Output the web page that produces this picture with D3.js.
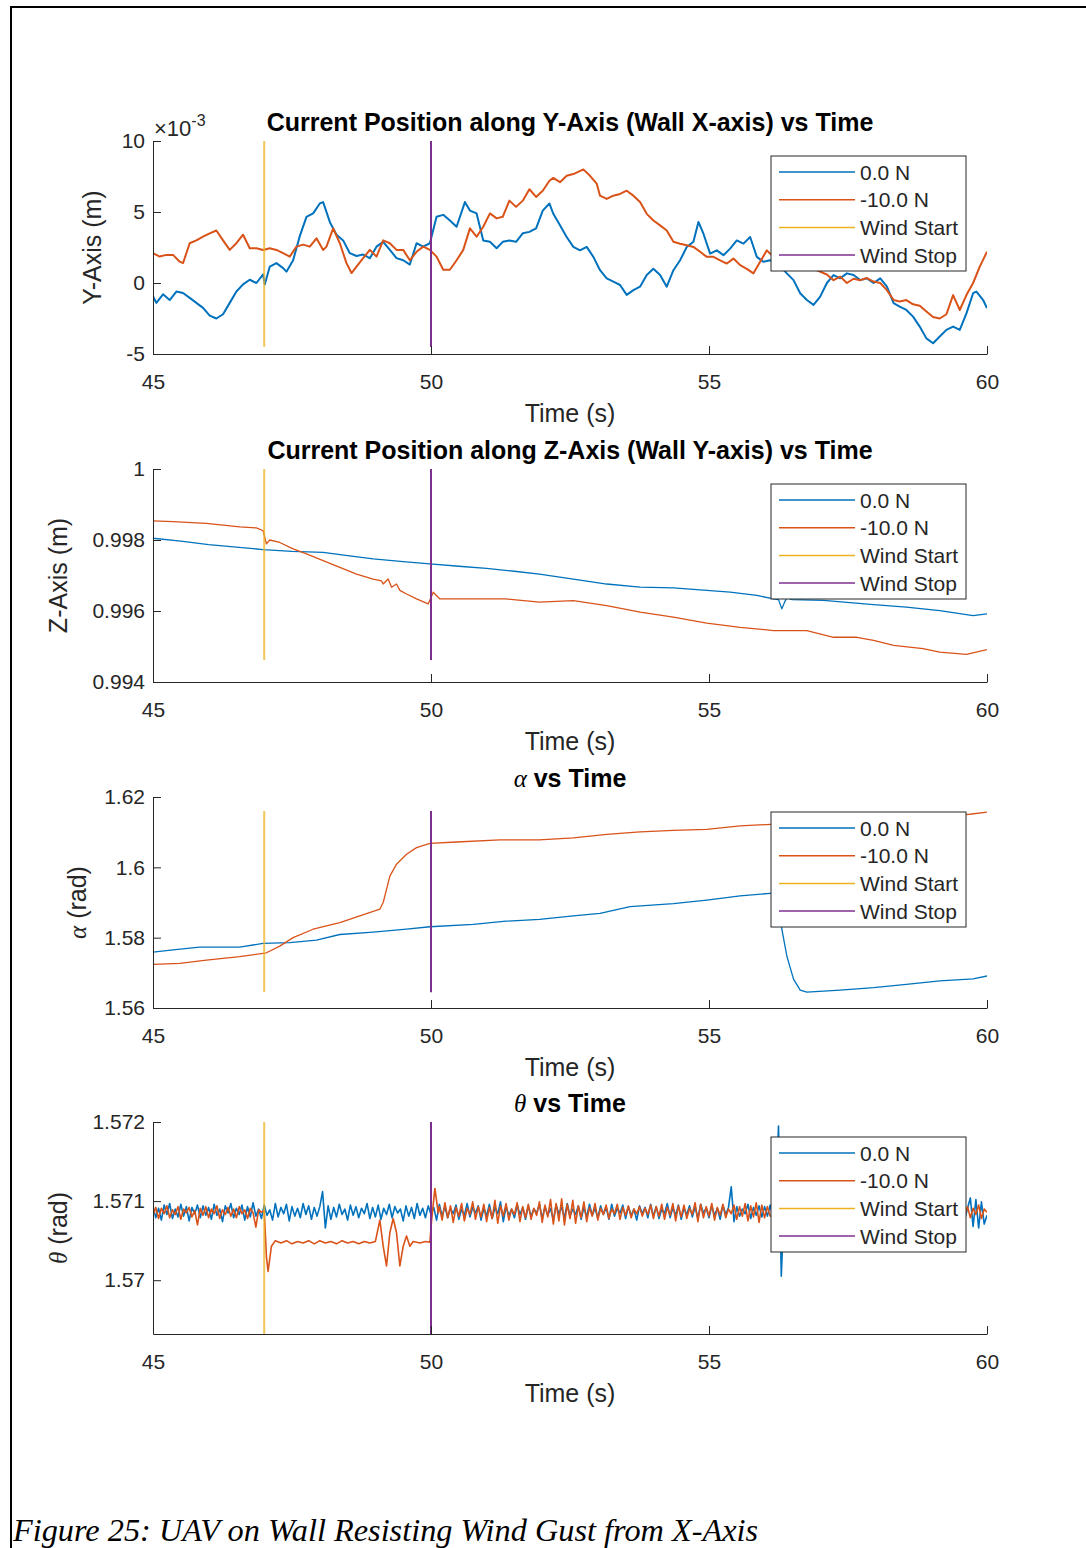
<!DOCTYPE html>
<html>
<head>
<meta charset="utf-8">
<title>UAV on Wall Resisting Wind Gust</title>
<style>
  html, body { margin: 0; padding: 0; background: #fff; }
  svg { display: block; }
</style>
</head>
<body>
<svg id="svg" width="1086" height="1548" font-family="'Liberation Sans', Arial, sans-serif"></svg>
<script src="https://cdn.jsdelivr.net/npm/d3@7"></script>
<script>
// ---- data ----
const timeTicks = [45, 50, 55, 60];
const legendLabels = ['0.0 N', '-10.0 N', 'Wind Start', 'Wind Stop'];
const windStart = 47;
const windStop = 50;

// position along Y axis, in units of 1e-3 m : [time s, value]
const posY0N = [[45.00,-0.93],[45.06,-1.4],[45.18,-0.8],[45.30,-1.2],[45.42,-0.6],[45.54,-0.7],[45.66,-1.05],[45.78,-1.4],[45.90,-1.75],[46.02,-2.3],[46.14,-2.5],[46.26,-2.2],[46.38,-1.4],[46.50,-0.6],[46.62,-0.1],[46.74,0.23],[46.86,0],[46.98,0.6],[47.01,-0.1],[47.10,1.15],[47.22,1.4],[47.34,1.05],[47.40,0.8],[47.52,1.6],[47.64,3.3],[47.76,4.66],[47.88,4.9],[48.00,5.6],[48.06,5.7],[48.18,4.3],[48.30,3.4],[48.42,3.0],[48.54,2.1],[48.66,1.9],[48.78,2.0],[48.90,1.75],[49.02,2.56],[49.14,2.9],[49.26,2.33],[49.38,1.75],[49.50,1.6],[49.62,1.3],[49.74,2.8],[49.86,2.56],[49.98,2.8],[50.10,4.66],[50.22,4.8],[50.34,4.4],[50.46,3.96],[50.61,5.7],[50.70,5.1],[50.82,4.9],[50.94,3.0],[51.06,2.9],[51.18,2.45],[51.29,2.9],[51.41,3.0],[51.53,2.9],[51.65,3.5],[51.77,3.6],[51.89,3.85],[52.01,5.1],[52.13,5.6],[52.20,4.87],[52.32,4.06],[52.44,3.24],[52.56,2.54],[52.68,2.3],[52.80,2.54],[52.92,1.84],[53.04,0.9],[53.16,0.33],[53.28,0.1],[53.40,-0.14],[53.52,-0.84],[53.64,-0.5],[53.76,-0.26],[53.88,0.56],[54.00,1.0],[54.12,0.56],[54.24,-0.26],[54.36,0.9],[54.48,1.6],[54.60,2.54],[54.72,2.9],[54.81,4.3],[54.90,3.47],[55.02,2.07],[55.14,2.3],[55.26,1.96],[55.38,2.42],[55.50,3.0],[55.62,2.77],[55.74,3.24],[55.86,1.84],[55.98,1.49],[56.10,1.6],[56.28,1.2],[56.40,0.68],[56.52,0.2],[56.64,-0.72],[56.76,-1.2],[56.88,-1.54],[57.00,-0.96],[57.12,0],[57.24,0.56],[57.36,0.33],[57.48,0.68],[57.60,0.56],[57.72,0.2],[57.84,0.33],[57.96,0],[58.08,0.33],[58.20,-0.26],[58.32,-1.42],[58.43,-1.66],[58.55,-1.9],[58.67,-2.37],[58.79,-3.07],[58.91,-3.9],[59.03,-4.24],[59.15,-3.77],[59.27,-3.3],[59.39,-3.07],[59.51,-3.3],[59.63,-2.14],[59.75,-0.72],[59.81,-0.6],[59.93,-1.2],[60.00,-1.77]];
const posY10N = [[45.00,2.1],[45.12,1.86],[45.24,1.98],[45.36,1.98],[45.48,1.5],[45.54,1.4],[45.66,2.8],[45.78,3.0],[45.90,3.26],[46.02,3.5],[46.14,3.7],[46.26,3.0],[46.38,2.33],[46.50,2.8],[46.62,3.4],[46.74,2.45],[46.86,2.45],[46.98,2.33],[47.10,2.45],[47.22,2.33],[47.34,2.1],[47.46,1.86],[47.58,2.56],[47.70,2.7],[47.82,2.56],[47.94,3.15],[48.06,2.33],[48.12,2.56],[48.24,3.85],[48.36,2.8],[48.48,1.4],[48.57,0.7],[48.66,1.15],[48.78,1.75],[48.90,2.33],[49.02,1.86],[49.14,3.0],[49.26,2.8],[49.38,2.33],[49.50,2.33],[49.62,1.6],[49.74,2.2],[49.86,2.56],[49.98,2.33],[50.10,1.86],[50.22,0.93],[50.34,0.93],[50.46,1.6],[50.58,2.33],[50.70,3.85],[50.82,3.26],[50.94,3.96],[51.06,4.9],[51.18,4.55],[51.29,4.66],[51.41,5.8],[51.53,5.36],[51.65,5.8],[51.77,6.6],[51.89,6.06],[52.01,6.5],[52.13,7.2],[52.20,7.4],[52.32,7.1],[52.44,7.55],[52.56,7.67],[52.74,8.0],[52.86,7.55],[52.98,7.0],[53.04,6.15],[53.16,5.92],[53.28,6.15],[53.40,6.27],[53.52,6.5],[53.64,6.15],[53.76,5.7],[53.88,4.87],[54.00,4.4],[54.12,4.06],[54.24,3.7],[54.36,2.9],[54.48,2.77],[54.60,2.66],[54.72,2.54],[54.84,2.2],[54.96,1.84],[55.08,1.84],[55.20,1.6],[55.32,1.37],[55.44,1.72],[55.56,1.26],[55.68,1.0],[55.80,0.68],[55.92,1.49],[56.04,2.3],[56.16,1.84],[56.40,1.5],[56.64,1.2],[56.88,1.0],[57.12,0.6],[57.24,0.2],[57.36,0.45],[57.48,0],[57.60,0.3],[57.72,0.2],[57.84,0.35],[57.96,0.1],[58.08,0],[58.20,-0.5],[58.32,-1.2],[58.43,-1.3],[58.55,-1.2],[58.67,-1.5],[58.79,-1.6],[58.91,-2.0],[59.03,-2.4],[59.15,-2.5],[59.27,-2.2],[59.39,-0.85],[59.51,-1.9],[59.63,-0.85],[59.75,0],[59.87,1.15],[60.00,2.2]];

// position along Z axis (m)
const posZ0N = [[45.00,0.99805],[45.5,0.99797],[46.0,0.99787],[46.5,0.9978],[46.98,0.99773],[47.5,0.99768],[48.06,0.99765],[48.5,0.99756],[48.96,0.99747],[49.5,0.99739],[49.98,0.99733],[50.5,0.99726],[51.0,0.9972],[51.5,0.99712],[51.95,0.99704],[52.56,0.9969],[53.16,0.99676],[53.76,0.99667],[54.36,0.99665],[54.96,0.99658],[55.38,0.99653],[55.86,0.99644],[56.16,0.99634],[56.25,0.99632],[56.31,0.99606],[56.36,0.99625],[56.4,0.99637],[56.5,0.99632],[57.06,0.9963],[57.96,0.99618],[58.55,0.99611],[59.15,0.99601],[59.75,0.99587],[60.00,0.99592]];
const posZ10N = [[45.00,0.99854],[45.36,0.99852],[45.96,0.99847],[46.56,0.99837],[46.86,0.99834],[46.98,0.99826],[47.04,0.99789],[47.10,0.998],[47.28,0.99793],[47.52,0.99775],[47.76,0.99761],[48.06,0.99742],[48.36,0.99723],[48.66,0.99704],[48.96,0.9969],[49.11,0.99685],[49.14,0.99676],[49.23,0.9969],[49.29,0.99667],[49.38,0.99676],[49.44,0.99658],[49.56,0.99648],[49.74,0.99634],[49.95,0.9962],[50.04,0.99653],[50.16,0.99634],[50.76,0.99634],[51.35,0.99634],[51.95,0.99625],[52.56,0.99629],[53.16,0.99615],[53.76,0.99597],[54.36,0.99583],[54.96,0.99566],[55.56,0.99554],[56.16,0.99545],[56.76,0.99545],[57.24,0.99526],[57.66,0.99526],[57.96,0.99517],[58.32,0.99503],[58.85,0.99494],[59.15,0.99484],[59.63,0.99478],[60.00,0.99491]];

// alpha (rad)
const alpha0N = [[45.00,1.5759],[45.36,1.5765],[45.84,1.5773],[46.56,1.5773],[46.98,1.5784],[47.46,1.5786],[47.94,1.5793],[48.36,1.5809],[48.96,1.5816],[49.56,1.5824],[49.98,1.5831],[50.76,1.5838],[51.35,1.5847],[51.95,1.5852],[52.56,1.5862],[53.04,1.5869],[53.58,1.5888],[54.36,1.5897],[54.96,1.5907],[55.56,1.5919],[56.10,1.5926],[56.23,1.5928],[56.31,1.5824],[56.40,1.5748],[56.52,1.5682],[56.64,1.5651],[56.76,1.5645],[57.36,1.5651],[57.96,1.5658],[58.55,1.5667],[59.15,1.5677],[59.75,1.5683],[60.00,1.5691]];
const alpha10N = [[45.00,1.5724],[45.48,1.5727],[45.96,1.5736],[46.56,1.5746],[47.04,1.5757],[47.28,1.5776],[47.52,1.58],[47.88,1.5824],[48.36,1.5843],[48.72,1.5862],[49.08,1.5881],[49.14,1.59],[49.26,1.5975],[49.38,1.6009],[49.56,1.6037],[49.74,1.6056],[49.98,1.6068],[50.46,1.6072],[51.24,1.6078],[51.95,1.6078],[52.56,1.6084],[53.16,1.6094],[53.76,1.6101],[54.36,1.6105],[54.96,1.6108],[55.56,1.6118],[56.10,1.6122],[57.96,1.6138],[59.69,1.6151],[60.00,1.6157]];

// theta (rad), 0 N run sampled every 0.05 s from 45 s (one row per second)
const thetaStep = 0.05;
const theta0N = [
1.57094,1.57079,1.57091,1.57076,1.57095,1.57083,1.57097,1.57078,1.5709,1.5708,1.57096,1.57081,1.57093,1.57075,1.57092,1.57084,1.57095,1.57079,1.57094,1.57082,
1.57092,1.57077,1.57096,1.57082,1.5709,1.57074,1.57094,1.57085,1.57097,1.57079,1.57091,1.57083,1.57095,1.57076,1.57093,1.5708,1.57098,1.57081,1.5709,1.57078,
1.57095,1.57082,1.57089,1.57076,1.57097,1.5708,1.57092,1.57084,1.57096,1.57075,1.57093,1.57081,1.57091,1.57079,1.57097,1.57083,1.57094,1.57077,1.57092,1.57081,
1.57093,1.57112,1.57066,1.57094,1.57077,1.57092,1.5708,1.57096,1.57083,1.5709,1.57076,1.57095,1.57082,1.57093,1.57079,1.57091,1.57084,1.57097,1.57078,1.57092,
1.5708,1.57095,1.57077,1.57091,1.57083,1.57096,1.57079,1.57093,1.57085,1.5709,1.57075,1.57094,1.57081,1.57092,1.57078,1.57097,1.57082,1.57091,1.57079,1.57094,
1.57083,1.57092,1.57076,1.57096,1.57081,1.57093,1.57079,1.57091,1.57084,1.57095,1.57077,1.5709,1.57082,1.57097,1.5708,1.57092,1.57085,1.57094,1.57076,1.57091,
1.57081,1.57096,1.57078,1.57092,1.57084,1.57099,1.57074,1.57093,1.57082,1.5709,1.57079,1.57095,1.57083,1.57092,1.57077,1.57094,1.57081,1.5709,1.57085,1.57096,
1.57078,1.57093,1.57082,1.57091,1.57076,1.57095,1.57084,1.57092,1.57079,1.57097,1.57081,1.5709,1.57083,1.57094,1.57077,1.57092,1.5708,1.57096,1.57082,1.57091,
1.57079,1.57094,1.57083,1.57092,1.57077,1.57096,1.57081,1.57091,1.57085,1.57095,1.57078,1.57093,1.57082,1.5709,1.57076,1.57094,1.57084,1.57092,1.57079,1.57096,
1.57081,1.57093,1.57078,1.5709,1.57084,1.57097,1.57079,1.57092,1.57082,1.57095,1.57077,1.57091,1.57083,1.57094,1.5708,1.57093,1.57078,1.57096,1.57085,1.57091,
1.57079,1.57094,1.57082,1.57091,1.57077,1.57095,1.57083,1.57092,1.57118,1.57074,1.57093,1.57081,1.5709,1.57084,1.57096,1.57078,1.57092,1.57082,1.57094,1.5708,
1.57093,1.57081,1.57095,1.57079,1.57092,1.57195,1.57005,1.57094,1.57082,1.57091,1.57079,1.57096,1.57083,1.57092,1.57077,1.57094,1.57081,1.5709,1.57084,1.57095,
1.57078,1.57092,1.57083,1.57096,1.5708,1.57091,1.57077,1.57094,1.57084,1.57092,1.57079,1.57095,1.57082,1.5709,1.57078,1.57093,1.57085,1.57091,1.5708,1.57096,
1.57082,1.57091,1.57077,1.57095,1.57083,1.57092,1.57079,1.57094,1.57081,1.5709,1.57084,1.57096,1.57078,1.57093,1.57082,1.57091,1.57077,1.57095,1.57084,1.57092,
1.5708,1.57094,1.57083,1.57091,1.57078,1.57096,1.57082,1.57093,1.57079,1.57092,1.57084,1.57095,1.57077,1.57091,1.57104,1.57068,1.57102,1.57066,1.57099,1.57071,
1.57082];
// theta (rad), -10 N run : [time s, value]
const theta10N = [[45.00,1.57082],[45.05,1.57092],[45.10,1.57078],[45.15,1.57091],[45.20,1.57084],[45.25,1.57094],[45.30,1.57079],[45.35,1.57089],[45.40,1.57083],[45.45,1.57093],[45.50,1.57077],[45.55,1.5709],[45.60,1.57085],[45.65,1.57092],[45.70,1.5708],[45.75,1.57088],[45.80,1.5707],[45.85,1.57091],[45.90,1.57082],[45.95,1.57093],
[46.00,1.57079],[46.05,1.5709],[46.10,1.57084],[46.15,1.57094],[46.20,1.57078],[46.25,1.57089],[46.30,1.57083],[46.35,1.57092],[46.40,1.57081],[46.45,1.5709],[46.50,1.57079],[46.55,1.57093],[46.60,1.57084],[46.65,1.57089],[46.70,1.57078],[46.75,1.57091],[46.80,1.57085],[46.85,1.57067],[46.90,1.57089],[46.95,1.57086],
[47.00,1.57088],[47.04,1.5703],[47.07,1.57011],[47.13,1.57043],[47.2,1.5705],[47.3,1.57047],[47.4,1.5705],[47.5,1.57046],[47.6,1.57049],[47.7,1.57047],[47.8,1.5705],[47.9,1.57046],[48.0,1.5705],[48.1,1.57047],[48.2,1.57049],[48.3,1.57046],[48.4,1.5705],[48.5,1.57047],[48.6,1.57049],[48.7,1.57046],[48.8,1.57049],[48.9,1.57047],[49.0,1.57049],
[49.08,1.57076],[49.14,1.57043],[49.2,1.57018],[49.26,1.5706],[49.32,1.57078],[49.38,1.5706],[49.44,1.57018],[49.5,1.57043],[49.56,1.57056],[49.62,1.57043],[49.68,1.57049],[49.8,1.57047],[49.9,1.57049],[49.98,1.57048],[50.01,1.57075],[50.07,1.57116],[50.13,1.57085],
[50.15,1.57093],[50.20,1.57076],[50.25,1.57098],[50.30,1.57079],[50.35,1.57094],[50.40,1.57073],[50.45,1.57092],[50.50,1.57081],[50.55,1.57097],[50.60,1.57075],[50.65,1.57091],[50.70,1.57083],[50.75,1.57099],[50.80,1.57077],[50.85,1.57093],[50.90,1.5708],[50.95,1.57096],[51.00,1.57074],
[51.05,1.57092],[51.10,1.57078],[51.15,1.57101],[51.20,1.57072],[51.25,1.57094],[51.30,1.57081],[51.35,1.57097],[51.40,1.57076],[51.45,1.5709],[51.50,1.57083],[51.55,1.57098],[51.60,1.57074],[51.65,1.57093],[51.70,1.57079],[51.75,1.57096],[51.80,1.57077],[51.85,1.57091],[51.90,1.57082],[51.95,1.57099],[52.00,1.57073],
[52.05,1.57095],[52.10,1.5708],[52.15,1.57102],[52.20,1.57071],[52.25,1.57097],[52.30,1.57075],[52.35,1.57103],[52.40,1.5707],[52.45,1.57096],[52.50,1.57078],[52.55,1.57101],[52.60,1.57072],[52.65,1.57094],[52.70,1.57079],[52.75,1.57099],[52.80,1.57074],[52.85,1.57092],[52.90,1.57081],[52.95,1.57097],[53.00,1.57076],
[53.05,1.57091],[53.10,1.57083],[53.15,1.57095],[53.20,1.57078],[53.25,1.5709],[53.30,1.57084],[53.35,1.57096],[53.40,1.57077],[53.45,1.57092],[53.50,1.57082],[53.55,1.57094],[53.60,1.57079],[53.65,1.5709],[53.70,1.57084],[53.75,1.57093],[53.80,1.57081],[53.85,1.57091],[53.90,1.57083],[53.95,1.57095],[54.00,1.57078],
[54.05,1.57093],[54.10,1.57081],[54.15,1.57096],[54.20,1.57077],[54.25,1.57092],[54.30,1.57082],[54.35,1.57097],[54.40,1.57075],[54.45,1.57094],[54.50,1.5708],[54.55,1.57095],[54.60,1.57078],[54.65,1.57091],[54.70,1.57083],[54.75,1.57098],[54.80,1.57074],[54.85,1.57096],[54.90,1.57079],[54.95,1.57093],[55.00,1.57081],
[55.05,1.57097],[55.10,1.57076],[55.15,1.57092],[55.20,1.57082],[55.25,1.57096],[55.30,1.57079],[55.35,1.5709],[55.40,1.57084],[55.45,1.57095],[55.50,1.57077],[55.55,1.57093],[55.60,1.57081],[55.65,1.57097],[55.70,1.57075],[55.75,1.57094],[55.80,1.5708],[55.85,1.57098],[55.90,1.57073],[55.95,1.57095],[56.00,1.57079],
[56.05,1.57093],[56.10,1.57081],[56.5,1.5709],[57.0,1.57083],[57.5,1.57091],[58.0,1.57084],[58.5,1.5709],[59.0,1.57083],[59.5,1.57091],
[59.60,1.57082],[59.65,1.57093],[59.70,1.57079],[59.75,1.57091],[59.80,1.57083],[59.85,1.57095],[59.90,1.57078],[59.95,1.5709],[60.00,1.57086]];

const yTicksPosY = [-5, 0, 5, 10];
const yTicksPosZ = [0.994, 0.996, 0.998, 1];
const yTicksAlpha = [1.56, 1.58, 1.6, 1.62];
const yTicksTheta = [1.57, 1.571, 1.572];

// ---- layout ----
const colors = ['#0072BD', '#D95319', '#EDB120', '#7E2F8E'];
const axisColor = '#262626';
const serif = "'Liberation Serif', 'Times New Roman', serif";
const plotLeft = 153, plotRight = 987;
const svg = d3.select('#svg');

const panels = [
  { top: 141, bottom: 354, domain: [-5, 10], ticks: yTicksPosY,
    series: [posY0N, posY10N], width: 2, wind: [-4.5, 10],
    title: [['Current Position along Y-Axis (Wall X-axis) vs Time', 'sans']],
    ylabel: [['Y-Axis (m)', 'sans']], ylabelX: 101, exponent: true },
  { top: 469, bottom: 682, domain: [0.994, 1], ticks: yTicksPosZ,
    series: [posZ0N, posZ10N], width: 1.3, wind: [0.99462, 1],
    title: [['Current Position along Z-Axis (Wall Y-axis) vs Time', 'sans']],
    ylabel: [['Z-Axis (m)', 'sans']], ylabelX: 67 },
  { top: 797, bottom: 1008, domain: [1.56, 1.62], ticks: yTicksAlpha,
    series: [alpha0N, alpha10N], width: 1.3, wind: [1.5645, 1.616],
    title: [['\u03b1', 'greek'], [' vs Time', 'sans']],
    ylabel: [['\u03b1', 'greek'], [' (rad)', 'sans']], ylabelX: 86 },
  { top: 1122, bottom: 1334, domain: [1.56932, 1.572], ticks: yTicksTheta,
    series: [theta0N.map((v, i) => [45 + i * thetaStep, v]), theta10N], width: 1.6, wind: [1.56932, 1.572],
    title: [['\u03b8', 'greek'], [' vs Time', 'sans']],
    ylabel: [['\u03b8', 'greek'], [' (rad)', 'sans']], ylabelX: 67 }
];

const x = d3.scaleLinear().domain([45, 60]).range([plotLeft, plotRight]);

const addRuns = (sel, runs, bold) => {
  runs.forEach(([str, kind]) => {
    const t = sel.append('tspan').text(str);
    if (kind === 'greek') {
      t.attr('font-family', serif).attr('font-style', 'italic').attr('font-weight', 'normal');
    } else if (bold) {
      t.attr('font-weight', 'bold');
    }
  });
};

panels.forEach((p, pi) => {
  const y = d3.scaleLinear().domain(p.domain).range([p.bottom, p.top]);
  const g = svg.append('g');

  g.append('clipPath').attr('id', 'clip' + pi)
    .append('rect')
    .attr('x', plotLeft).attr('y', p.top)
    .attr('width', plotRight - plotLeft).attr('height', p.bottom - p.top);

  const plot = g.append('g').attr('clip-path', `url(#clip${pi})`);
  const linegen = d3.line().x((d) => x(d[0])).y((d) => y(d[1]));

  p.series.forEach((s, si) => {
    plot.append('path')
      .attr('d', linegen(s))
      .attr('fill', 'none')
      .attr('stroke', colors[si])
      .attr('stroke-width', p.width)
      .attr('stroke-linejoin', 'round');
  });

  [windStart, windStop].forEach((t, wi) => {
    plot.append('path')
      .attr('d', linegen([[t, p.wind[0]], [t, p.wind[1]]]))
      .attr('stroke', colors[2 + wi])
      .attr('stroke-opacity', wi === 0 ? 0.75 : 1)
      .attr('stroke-width', 2);
  });

  // axes
  const xAxis = g.append('g')
    .attr('transform', `translate(0,${p.bottom})`)
    .call(d3.axisBottom(x).tickValues(timeTicks).tickSize(-8).tickSizeOuter(0).tickPadding(20));
  const yAxis = g.append('g')
    .attr('transform', `translate(${plotLeft},0)`)
    .call(d3.axisLeft(y).tickValues(p.ticks).tickFormat((d) => String(+d.toFixed(4)))
      .tickSize(-8).tickSizeOuter(0).tickPadding(8));
  [xAxis, yAxis].forEach((a) => {
    a.attr('font-family', null);
    a.selectAll('path, line').attr('stroke', axisColor);
    a.selectAll('text').attr('fill', axisColor).attr('font-size', 21);
  });

  // labels
  g.append('text')
    .attr('x', (plotLeft + plotRight) / 2).attr('y', p.bottom + 68)
    .attr('text-anchor', 'middle').attr('font-size', 25).attr('fill', axisColor)
    .text('Time (s)');

  const title = g.append('text')
    .attr('x', (plotLeft + plotRight) / 2).attr('y', p.top - 10)
    .attr('text-anchor', 'middle').attr('font-size', 25).attr('fill', '#000');
  addRuns(title, p.title, true);

  const yl = g.append('text')
    .attr('transform', `translate(${p.ylabelX},${(p.top + p.bottom) / 2}) rotate(-90)`)
    .attr('text-anchor', 'middle').attr('font-size', 25).attr('fill', axisColor);
  addRuns(yl, p.ylabel, false);

  if (p.exponent) {
    const ex = g.append('text').attr('x', plotLeft + 1).attr('y', p.top - 5)
      .attr('font-size', 22).attr('fill', axisColor);
    ex.append('tspan').text('\u00d710');
    ex.append('tspan').attr('dy', -10).attr('font-size', 16).text('-3');
  }

  // legend
  const lx = 771, ly = p.top + 15, lw = 195, lh = 115;
  const leg = g.append('g');
  leg.append('rect').attr('x', lx).attr('y', ly).attr('width', lw).attr('height', lh)
    .attr('fill', '#fff').attr('stroke', axisColor).attr('stroke-width', 1);
  legendLabels.forEach((lab, i) => {
    const ry = ly + 16 + i * 27.7;
    leg.append('line').attr('x1', lx + 8).attr('x2', lx + 84)
      .attr('y1', ry).attr('y2', ry)
      .attr('stroke', colors[i]).attr('stroke-width', 1.5);
    leg.append('text').attr('x', lx + 89).attr('y', ry + 7.5)
      .attr('font-size', 21).attr('fill', axisColor).text(lab);
  });
});

// page frame and caption
svg.append('path')
  .attr('d', 'M11,1548 V7 H1086')
  .attr('fill', 'none').attr('stroke', '#000').attr('stroke-width', 2);

svg.append('text')
  .attr('x', 13).attr('y', 1541)
  .attr('font-family', serif)
  .attr('font-style', 'italic').attr('font-size', 32)
  .attr('textLength', 745).attr('lengthAdjust', 'spacingAndGlyphs')
  .text('Figure 25: UAV on Wall Resisting Wind Gust from X-Axis');
</script>
</body>
</html>
